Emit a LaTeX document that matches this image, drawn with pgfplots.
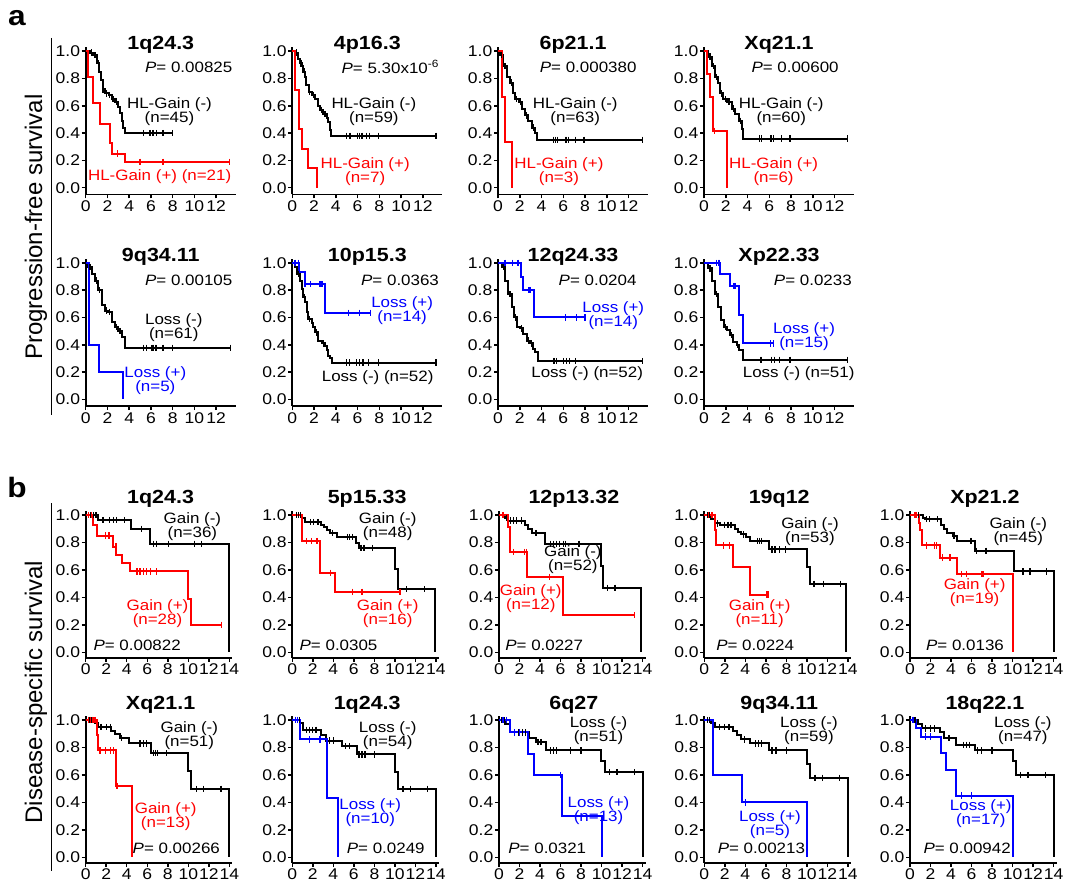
\documentclass[border=0pt]{standalone}
\usepackage{fontspec}
\setmainfont{Liberation Sans}[FakeStretch=1.13]
\newfontfamily\ylabfont{Liberation Sans}
\usepackage{pgfplots}
\pgfplotsset{compat=1.18}

\definecolor{kmred}{RGB}{255,0,0}
\definecolor{kmblue}{RGB}{0,0,255}

\newcommand\tk{\fontsize{15.5}{17}\selectfont}
\newcommand\lab{\fontsize{15}{14}\selectfont}
\newcommand\ttl{\fontsize{19}{22}\selectfont\bfseries}

\pgfplotsset{
  km/.style={scale only axis, clip=false,
    axis x line=bottom, axis y line=left,
    axis line style={-, line width=1.8pt},
    tick style={black, line width=1.5pt}, major tick length=4pt, tick align=outside,
    ytick={0,0.2,0.4,0.6,0.8,1},
    yticklabel style={/pgf/number format/fixed, /pgf/number format/fixed zerofill, /pgf/number format/precision=1, inner sep=1.5pt},
    xticklabel style={inner sep=2pt},
    tick label style={font=\tk, /pgf/number format/assume math mode=true},
  },
  kmA/.style={km, width=150.1pt, height=147.4pt, xmin=0, xmax=13.8, ymin=-0.05, ymax=1.03, xtick={0,2,...,12}},
  kmB/.style={km, width=146.7pt, height=146.8pt, xmin=0, xmax=14.3, ymin=-0.04, ymax=1.03, xtick={0,2,...,14}},
}
% step curve and censor ticks
\newcommand\kml[2]{\addplot[const plot, #1, line width=2pt] coordinates {#2};}
\newcommand\kmc[2]{\addplot[only marks, mark=|, #1, mark size=3.2pt, mark options={line width=1.3pt}] coordinates {#2};}
\newcommand\lbl[3]{\node[font=\lab, text=#1, align=center, inner sep=0pt] at (axis cs:#2) {#3};}
\newcommand\pval[3]{\node[font=\lab, anchor=#1, inner sep=0pt] at (axis cs:#2) {\textit{P}= #3};}

\begin{document}
\begin{tikzpicture}[x=1pt,y=1pt]
\useasboundingbox (0,0) rectangle (1067,887);

\node[font=\fontsize{28}{30}\selectfont\bfseries] at (17,869) {a};
\node[font=\fontsize{28}{30}\selectfont\bfseries] at (17,400) {b};
\node[font=\ylabfont\fontsize{24}{26}\selectfont, rotate=90] at (36,660) {Progression-free survival};
\node[font=\ylabfont\fontsize{24}{26}\selectfont, rotate=90] at (36,195) {Disease-specific survival};
\draw[line width=1.8pt] (51.5,849) -- (51.5,472);
\draw[line width=1.8pt] (51.5,384) -- (51.5,16);

%%%%%%%%%%%%%%%% panel a, row 1
\begin{axis}[kmA, at={(85.7pt,692.5pt)}, anchor=south west]
\kml{black}{(0,1)(0.4,0.99)(0.7,0.97)(1.0,0.91)(1.25,0.85)(1.4,0.79)(1.55,0.72)(1.75,0.69)(2.1,0.68)(2.4,0.65)(2.7,0.63)(3.0,0.59)(3.15,0.55)(3.3,0.49)(3.45,0.44)(3.6,0.40)(8.0,0.40)}
\kmc{black}{(0.55,0.99)(0.85,0.97)(1.15,0.91)(1.6,0.72)(1.9,0.69)(2.2,0.68)(2.5,0.65)(2.85,0.63)(5.3,0.40)(5.9,0.40)(6.2,0.40)(6.5,0.40)(7.1,0.40)(8.0,0.40)}
\kml{kmred}{(0,1)(0.25,0.81)(0.64,0.62)(1.3,0.47)(2.2,0.33)(2.45,0.25)(3.6,0.19)(13.2,0.19)}
\kmc{kmred}{(2.9,0.25)(5.0,0.19)(7.1,0.19)(13.2,0.19)}
\node[font=\ttl] at (axis cs:6.9,1.05) {1q24.3};
\pval{east}{13.5,0.885}{0.00825}
\lbl{black}{7.7,0.56}{HL-Gain (-)\\(n=45)}
\lbl{kmred}{6.8,0.08}{HL-Gain (+) (n=21)}
\end{axis}

\begin{axis}[kmA, at={(292.3pt,692.5pt)}, anchor=south west]
\kml{black}{(0,1)(0.25,0.99)(0.55,0.94)(0.7,0.91)(0.86,0.89)(1.0,0.85)(1.17,0.81)(1.3,0.75)(1.5,0.70)(1.8,0.68)(2.1,0.65)(2.4,0.60)(2.55,0.57)(2.85,0.54)(3.16,0.51)(3.3,0.48)(3.45,0.42)(3.55,0.38)(13.2,0.38)}
\kmc{black}{(0.4,0.99)(0.8,0.91)(1.1,0.85)(1.6,0.70)(1.95,0.68)(2.7,0.57)(3.0,0.54)(5.0,0.38)(5.3,0.38)(6.0,0.38)(6.2,0.38)(6.4,0.38)(6.8,0.38)(7.1,0.38)(7.9,0.38)(13.2,0.38)}
\kml{kmred}{(0,1)(0.25,0.714)(0.6,0.429)(0.85,0.286)(1.4,0.143)(2.3,0)}
\node[font=\ttl] at (axis cs:6.9,1.05) {4p16.3};
\pval{east}{13.5,0.885}{5.30x10\textsuperscript{-6}}
\lbl{black}{7.5,0.56}{HL-Gain (-)\\(n=59)}
\lbl{kmred}{6.7,0.12}{HL-Gain (+)\\(n=7)}
\end{axis}

\begin{axis}[kmA, at={(498pt,692.5pt)}, anchor=south west]
\kml{black}{(0,1)(0.18,0.97)(0.5,0.89)(0.8,0.81)(1.1,0.77)(1.4,0.69)(1.6,0.65)(1.9,0.63)(2.2,0.58)(2.5,0.53)(2.8,0.49)(3.1,0.44)(3.4,0.40)(3.6,0.35)(13.3,0.35)}
\kmc{black}{(0.3,0.97)(0.65,0.89)(1.25,0.77)(1.7,0.65)(2.05,0.63)(2.65,0.53)(3.25,0.44)(5.1,0.35)(5.3,0.35)(5.5,0.35)(6.2,0.35)(6.3,0.35)(6.5,0.35)(7.1,0.35)(7.9,0.35)(13.3,0.35)}
\kml{kmred}{(0,1)(0.35,0.667)(0.64,0.333)(1.3,0)}
\node[font=\ttl] at (axis cs:6.9,1.05) {6p21.1};
\pval{east}{12.75,0.885}{0.000380}
\lbl{black}{7.1,0.56}{HL-Gain (-)\\(n=63)}
\lbl{kmred}{5.6,0.12}{HL-Gain (+)\\(n=3)}
\end{axis}

\begin{axis}[kmA, at={(704pt,692.5pt)}, anchor=south west]
\kml{black}{(0,1)(0.4,0.96)(0.7,0.89)(1.0,0.81)(1.3,0.77)(1.45,0.69)(1.78,0.65)(2.1,0.63)(2.55,0.58)(2.85,0.54)(3.2,0.49)(3.5,0.43)(3.6,0.36)(13.2,0.36)}
\kmc{black}{(0.55,0.96)(0.85,0.89)(1.15,0.81)(1.6,0.69)(1.95,0.65)(2.3,0.63)(2.7,0.58)(3.35,0.49)(5.1,0.36)(5.3,0.36)(6.1,0.36)(6.2,0.36)(6.4,0.36)(7.1,0.36)(7.9,0.36)(13.2,0.36)}
\kml{kmred}{(0,1)(0.25,0.833)(0.55,0.667)(0.85,0.417)(2.1,0)}
\kmc{kmred}{(0.95,0.417)}
\node[font=\ttl] at (axis cs:6.9,1.05) {Xq21.1};
\pval{east}{12.4,0.885}{0.00600}
\lbl{black}{7.1,0.56}{HL-Gain (-)\\(n=60)}
\lbl{kmred}{6.4,0.12}{HL-Gain (+)\\(n=6)}
\end{axis}

%%%%%%%%%%%%%%%% panel a, row 2
\begin{axis}[kmA, at={(85.7pt,480.8pt)}, anchor=south west]
\kml{black}{(0,1)(0.24,0.97)(0.55,0.92)(0.86,0.87)(1.16,0.80)(1.47,0.69)(1.77,0.65)(2.08,0.64)(2.39,0.57)(2.69,0.53)(3.0,0.50)(3.31,0.46)(3.61,0.377)(13.3,0.377)}
\kmc{black}{(0.4,0.97)(1.0,0.87)(1.3,0.80)(1.9,0.65)(2.2,0.64)(2.8,0.53)(3.15,0.50)(5.3,0.377)(5.6,0.377)(6.1,0.377)(6.2,0.377)(6.4,0.377)(6.5,0.377)(7.1,0.377)(8.0,0.377)(13.3,0.377)}
\kml{kmblue}{(0,1)(0.3,0.4)(1.23,0.2)(3.4,0)}
\node[font=\ttl] at (axis cs:6.9,1.046) {9q34.11};
\pval{east}{13.5,0.87}{0.00105}
\lbl{black}{8.1,0.525}{Loss (-)\\(n=61)}
\lbl{kmblue}{6.4,0.14}{Loss (+)\\(n=5)}
\end{axis}

\begin{axis}[kmA, at={(292.3pt,480.8pt)}, anchor=south west]
\kml{black}{(0,1)(0.25,0.97)(0.4,0.92)(0.7,0.87)(0.86,0.81)(1.0,0.75)(1.17,0.71)(1.32,0.64)(1.47,0.59)(1.78,0.56)(1.93,0.53)(2.09,0.49)(2.39,0.43)(2.7,0.41)(3.0,0.39)(3.16,0.36)(3.31,0.32)(3.47,0.30)(3.62,0.27)(13.2,0.27)}
\kmc{black}{(0.55,0.92)(1.1,0.75)(1.6,0.59)(2.2,0.49)(2.85,0.41)(5.0,0.27)(5.25,0.27)(5.9,0.27)(6.2,0.27)(6.5,0.27)(7.0,0.27)(7.9,0.27)(13.2,0.27)}
\kml{kmblue}{(0,1)(0.6,0.93)(1.17,0.845)(3.0,0.635)(7.2,0.635)}
\kmc{kmblue}{(0.25,1)(0.55,1)(1.17,0.845)(1.7,0.845)(2.55,0.845)(2.7,0.845)(2.8,0.845)(5.15,0.635)(6.2,0.635)(7.2,0.635)}
\node[font=\ttl] at (axis cs:6.9,1.046) {10p15.3};
\pval{east}{13.5,0.87}{0.0363}
\lbl{kmblue}{10.1,0.65}{Loss (+)\\(n=14)}
\lbl{black}{7.85,0.16}{Loss (-) (n=52)}
\end{axis}

\begin{axis}[kmA, at={(498pt,480.8pt)}, anchor=south west]
\kml{black}{(0,1)(0.34,0.97)(0.64,0.87)(0.95,0.77)(1.26,0.68)(1.47,0.60)(1.72,0.53)(2.0,0.52)(2.33,0.48)(2.64,0.43)(2.94,0.41)(3.25,0.37)(3.4,0.35)(3.71,0.28)(13.3,0.28)}
\kmc{black}{(0.5,0.97)(1.1,0.77)(1.6,0.60)(2.15,0.52)(2.8,0.43)(3.1,0.41)(5.1,0.28)(5.2,0.28)(5.4,0.28)(6.0,0.28)(6.3,0.28)(6.6,0.28)(7.1,0.28)(13.3,0.28)}
\kml{kmblue}{(0,1)(2.1,0.90)(2.3,0.80)(3.3,0.60)(8.0,0.60)}
\kmc{kmblue}{(0.65,1)(1.35,1)(1.85,1)(2.85,0.80)(2.95,0.80)(6.2,0.60)(7.2,0.60)(8.0,0.60)}
\node[font=\ttl] at (axis cs:6.9,1.046) {12q24.33};
\pval{east}{12.75,0.87}{0.0204}
\lbl{kmblue}{10.6,0.615}{Loss (+)\\(n=14)}
\lbl{black}{8.2,0.19}{Loss (-) (n=52)}
\end{axis}

\begin{axis}[kmA, at={(704pt,480.8pt)}, anchor=south west]
\kml{black}{(0,1)(0.4,0.96)(0.7,0.87)(1.0,0.77)(1.3,0.68)(1.53,0.58)(1.84,0.53)(2.1,0.51)(2.4,0.47)(2.7,0.42)(3.0,0.40)(3.2,0.36)(3.6,0.29)(13.2,0.29)}
\kmc{black}{(0.55,0.96)(1.15,0.77)(1.95,0.53)(2.55,0.47)(3.1,0.40)(5.2,0.29)(5.3,0.29)(6.2,0.29)(6.5,0.29)(6.95,0.29)(7.9,0.29)(13.2,0.29)}
\kml{kmblue}{(0,1)(1.47,0.92)(2.4,0.83)(3.25,0.62)(3.55,0.41)(6.4,0.41)}
\kmc{kmblue}{(1.15,1)(1.3,1)(1.4,1)(2.7,0.83)(2.8,0.83)(2.9,0.83)(6.1,0.41)(6.4,0.41)}
\node[font=\ttl] at (axis cs:6.9,1.046) {Xp22.33};
\pval{east}{13.6,0.87}{0.0233}
\lbl{kmblue}{9.2,0.46}{Loss (+)\\(n=15)}
\lbl{black}{8.7,0.19}{Loss (-) (n=51)}
\end{axis}

%%%%%%%%%%%%%%%% panel b, row 1
\begin{axis}[kmB, at={(85.7pt,229.2pt)}, anchor=south west]
\kml{black}{(0,1)(1.23,0.964)(4.4,0.90)(6.3,0.79)(14.0,0)}
\kmc{black}{(0.45,1)(0.75,1)(1.0,1)(1.7,0.964)(2.35,0.964)(2.7,0.964)(3.0,0.964)(3.8,0.964)(5.45,0.90)(6.6,0.79)(6.9,0.79)(8.05,0.79)(10.6,0.79)(11.3,0.79)}
\kml{kmred}{(0,1)(0.75,0.93)(1.1,0.85)(2.7,0.77)(3.0,0.71)(3.5,0.65)(4.3,0.59)(10.0,0.39)(10.3,0.20)(13.25,0.20)}
\kmc{kmred}{(0.25,1)(0.55,1)(1.9,0.85)(2.2,0.85)(2.35,0.85)(2.95,0.77)(5.0,0.59)(5.3,0.59)(5.6,0.59)(5.9,0.59)(6.3,0.59)(6.9,0.59)(13.25,0.20)}
\node[font=\ttl] at (axis cs:7.3,1.12) {1q24.3};
\pval{west}{0.75,0.053}{0.00822}
\lbl{black}{10.4,0.915}{Gain (-)\\(n=36)}
\lbl{kmred}{7.0,0.28}{Gain (+)\\(n=28)}
\end{axis}

\begin{axis}[kmB, at={(292.3pt,229.2pt)}, anchor=south west]
\kml{black}{(0,1)(0.9,0.98)(1.25,0.95)(2.8,0.93)(3.1,0.91)(3.4,0.89)(3.7,0.87)(4.4,0.84)(6.2,0.80)(6.5,0.76)(10.0,0.61)(10.3,0.46)(13.9,0)}
\kmc{black}{(0.4,1)(0.6,1)(0.8,1)(1.8,0.95)(2.1,0.95)(2.5,0.95)(3.9,0.87)(5.4,0.84)(5.6,0.84)(5.9,0.84)(6.7,0.76)(7.0,0.76)(7.8,0.76)(11.1,0.46)(12.9,0.46)}
\kml{kmred}{(0,1)(0.9,0.81)(2.7,0.58)(4.15,0.44)(10.6,0.44)}
\kmc{kmred}{(1.4,0.81)(1.9,0.81)(2.4,0.81)(3.7,0.58)(5.9,0.44)(6.8,0.44)(10.5,0.44)}
\node[font=\ttl] at (axis cs:7.3,1.12) {5p15.33};
\pval{west}{0.7,0.053}{0.0305}
\lbl{black}{9.3,0.915}{Gain (-)\\(n=48)}
\lbl{kmred}{9.3,0.28}{Gain (+)\\(n=16)}
\end{axis}

\begin{axis}[kmB, at={(499pt,229.2pt)}, anchor=south west]
\kml{black}{(0,1)(0.58,0.98)(0.9,0.96)(2.5,0.93)(2.85,0.90)(3.2,0.87)(4.5,0.79)(9.9,0.63)(10.15,0.47)(13.8,0)}
\kmc{black}{(0.7,0.98)(1.1,0.96)(1.4,0.96)(1.7,0.96)(2.2,0.96)(3.6,0.87)(5.0,0.79)(5.3,0.79)(5.6,0.79)(5.9,0.79)(6.3,0.79)(6.5,0.79)(7.8,0.79)(10.6,0.47)(11.3,0.47)}
\kml{kmred}{(0,1)(0.85,0.91)(1.07,0.73)(2.75,0.55)(6.25,0.27)(13.2,0.27)}
\kmc{kmred}{(0.4,1)(1.4,0.73)(2.5,0.73)(2.7,0.73)(4.95,0.55)(13.2,0.27)}
\node[font=\ttl] at (axis cs:7.3,1.12) {12p13.32};
\pval{west}{0.6,0.053}{0.0227}
\lbl{black}{7.2,0.675}{Gain (-)\\(n=52)}
\lbl{kmred}{3.1,0.395}{Gain (+)\\(n=12)}
\end{axis}

\begin{axis}[kmB, at={(704.3pt,229.2pt)}, anchor=south west]
\kml{black}{(0,1)(0.7,0.97)(1.04,0.94)(1.5,0.93)(3.0,0.90)(3.3,0.88)(3.6,0.86)(4.1,0.84)(4.5,0.81)(6.35,0.75)(10.05,0.62)(10.3,0.50)(13.85,0)}
\kmc{black}{(0.3,1)(0.5,1)(1.3,0.94)(2.0,0.93)(2.3,0.93)(2.6,0.93)(3.8,0.86)(5.2,0.81)(5.4,0.81)(5.6,0.81)(6.6,0.75)(6.9,0.75)(7.3,0.75)(7.9,0.75)(10.7,0.50)(11.6,0.50)(13.3,0.50)}
\kml{kmred}{(0,1)(1.04,0.89)(1.15,0.78)(2.83,0.62)(4.5,0.42)(6.25,0.42)}
\kmc{kmred}{(0.4,1)(0.7,1)(0.8,1)(1.85,0.78)(2.45,0.78)(6.1,0.42)(6.25,0.42)}
\node[font=\ttl] at (axis cs:7.3,1.12) {19q12};
\pval{west}{1.15,0.053}{0.0224}
\lbl{black}{10.3,0.88}{Gain (-)\\(n=53)}
\lbl{kmred}{5.4,0.28}{Gain (+)\\(n=11)}
\end{axis}

\begin{axis}[kmB, at={(910pt,229.2pt)}, anchor=south west]
\kml{black}{(0,1)(1.3,0.98)(1.5,0.97)(3.0,0.93)(3.3,0.90)(3.6,0.87)(4.2,0.85)(4.6,0.81)(6.3,0.74)(10.1,0.59)(14.0,0)}
\kmc{black}{(0.5,1)(0.8,1)(1.6,0.97)(1.9,0.97)(2.7,0.97)(4.3,0.85)(5.9,0.81)(6.0,0.81)(6.5,0.74)(7.4,0.74)(11.0,0.59)(11.7,0.59)(13.3,0.59)}
\kml{kmred}{(0,1)(0.85,0.94)(1.0,0.89)(1.15,0.78)(2.9,0.69)(4.55,0.57)(10.05,0)}
\kmc{kmred}{(0.5,1)(0.65,1)(1.6,0.78)(2.4,0.78)(2.6,0.78)(3.2,0.69)(3.9,0.69)(5.0,0.57)(5.5,0.57)(7.0,0.57)(7.1,0.57)}
\node[font=\ttl] at (axis cs:7.3,1.12) {Xp21.2};
\pval{west}{1.55,0.053}{0.0136}
\lbl{black}{10.55,0.88}{Gain (-)\\(n=45)}
\lbl{kmred}{6.3,0.435}{Gain (+)\\(n=19)}
\end{axis}

%%%%%%%%%%%%%%%% panel b, row 2
\begin{axis}[kmB, at={(85.7pt,24.2pt)}, anchor=south west]
\kml{black}{(0,1)(0.9,0.98)(1.2,0.95)(2.5,0.92)(2.9,0.90)(3.3,0.87)(4.2,0.83)(6.4,0.76)(10.0,0.63)(10.3,0.50)(14.0,0)}
\kmc{black}{(0.4,1)(0.6,1)(1.5,0.95)(2.0,0.95)(2.4,0.95)(3.5,0.87)(5.3,0.83)(5.6,0.83)(5.9,0.83)(6.6,0.76)(6.8,0.76)(7.0,0.76)(7.9,0.76)(10.8,0.50)(11.5,0.50)(13.2,0.50)}
\kml{kmred}{(0,1)(1.07,0.89)(1.23,0.78)(3.0,0.52)(4.55,0)}
\kmc{kmred}{(0.3,1)(0.45,1)(0.7,1)(0.9,1)(1.4,0.78)(1.9,0.78)(2.4,0.78)(2.7,0.78)(3.05,0.52)}
\node[font=\ttl] at (axis cs:7.3,1.11) {Xq21.1};
\pval{east}{13.1,0.065}{0.00266}
\lbl{black}{10.1,0.89}{Gain (-)\\(n=51)}
\lbl{kmred}{7.8,0.30}{Gain (+)\\(n=13)}
\end{axis}

\begin{axis}[kmB, at={(292.3pt,24.2pt)}, anchor=south west]
\kml{black}{(0,1)(0.75,0.98)(1.07,0.93)(2.8,0.89)(3.3,0.85)(4.8,0.81)(6.3,0.75)(10.0,0.62)(10.3,0.50)(14.0,0)}
\kmc{black}{(0.3,1)(0.5,1)(0.7,1)(1.4,0.93)(1.7,0.93)(2.0,0.93)(2.3,0.93)(3.6,0.85)(4.0,0.85)(5.2,0.81)(5.6,0.81)(6.5,0.75)(6.8,0.75)(7.1,0.75)(8.0,0.75)(10.8,0.50)(11.5,0.50)(13.2,0.50)}
\kml{kmblue}{(0,1)(0.75,0.86)(3.4,0.43)(4.5,0)}
\kmc{kmblue}{(0.3,1)(0.5,1)(1.7,0.86)(2.7,0.86)}
\node[font=\ttl] at (axis cs:7.3,1.11) {1q24.3};
\pval{west}{5.3,0.065}{0.0249}
\lbl{black}{9.3,0.89}{Loss (-)\\(n=54)}
\lbl{kmblue}{7.6,0.325}{Loss (+)\\(n=10)}
\end{axis}

\begin{axis}[kmB, at={(499pt,24.2pt)}, anchor=south west]
\kml{black}{(0,1)(0.6,0.97)(1.07,0.91)(2.9,0.87)(3.6,0.84)(4.6,0.78)(9.9,0.70)(10.3,0.62)(14.0,0)}
\kmc{black}{(0.3,1)(0.5,1)(1.5,0.91)(1.9,0.91)(2.3,0.91)(2.6,0.91)(3.8,0.84)(4.1,0.84)(5.0,0.78)(5.3,0.78)(5.6,0.78)(7.0,0.78)(8.0,0.78)(10.8,0.62)(11.5,0.62)(13.2,0.62)}
\kml{kmblue}{(0,1)(1.07,0.91)(2.85,0.75)(3.4,0.60)(6.1,0.30)(10.0,0)}
\kmc{kmblue}{(0.4,1)(0.7,1)(1.5,0.91)(2.0,0.91)(6.0,0.60)}
\node[font=\ttl] at (axis cs:7.3,1.11) {6q27};
\pval{west}{0.9,0.065}{0.0321}
\lbl{black}{9.7,0.92}{Loss (-)\\(n=51)}
\lbl{kmblue}{9.7,0.34}{Loss (+)\\(n=13)}
\end{axis}

\begin{axis}[kmB, at={(704.3pt,24.2pt)}, anchor=south west]
\kml{black}{(0,1)(0.7,0.98)(1.0,0.95)(2.8,0.92)(3.2,0.89)(3.6,0.86)(4.5,0.83)(6.3,0.78)(10.0,0.68)(10.3,0.58)(14.0,0)}
\kmc{black}{(0.3,1)(0.5,1)(1.5,0.95)(2.0,0.95)(2.4,0.95)(3.9,0.86)(5.0,0.83)(5.3,0.83)(5.6,0.83)(6.6,0.78)(7.0,0.78)(8.0,0.78)(10.8,0.58)(11.5,0.58)(13.2,0.58)}
\kml{kmblue}{(0,1)(0.8,0.6)(3.7,0.4)(10.0,0)}
\kmc{kmblue}{(4.0,0.4)}
\node[font=\ttl] at (axis cs:7.3,1.11) {9q34.11};
\pval{west}{1.3,0.065}{0.00213}
\lbl{black}{10.2,0.92}{Loss (-)\\(n=59)}
\lbl{kmblue}{6.4,0.24}{Loss (+)\\(n=5)}
\end{axis}

\begin{axis}[kmB, at={(910pt,24.2pt)}, anchor=south west]
\kml{black}{(0,1)(0.8,0.97)(1.2,0.94)(2.9,0.91)(3.3,0.87)(4.5,0.82)(6.3,0.78)(10.0,0.70)(10.3,0.60)(14.0,0)}
\kmc{black}{(0.3,1)(0.5,1)(1.5,0.94)(2.0,0.94)(2.4,0.94)(3.8,0.87)(5.2,0.82)(5.5,0.82)(5.8,0.82)(6.6,0.78)(7.0,0.78)(8.0,0.78)(10.8,0.60)(11.5,0.60)(13.2,0.60)}
\kml{kmblue}{(0,1)(0.6,0.94)(1.1,0.88)(3.0,0.76)(3.5,0.64)(4.5,0.45)(10.0,0)}
\kmc{kmblue}{(0.3,1)(1.5,0.88)(2.0,0.88)(5.0,0.45)(6.0,0.45)}
\node[font=\ttl] at (axis cs:7.3,1.11) {18q22.1};
\pval{west}{1.3,0.065}{0.00942}
\lbl{black}{11.0,0.92}{Loss (-)\\(n=47)}
\lbl{kmblue}{6.9,0.32}{Loss (+)\\(n=17)}
\end{axis}
\end{tikzpicture}
\end{document}
